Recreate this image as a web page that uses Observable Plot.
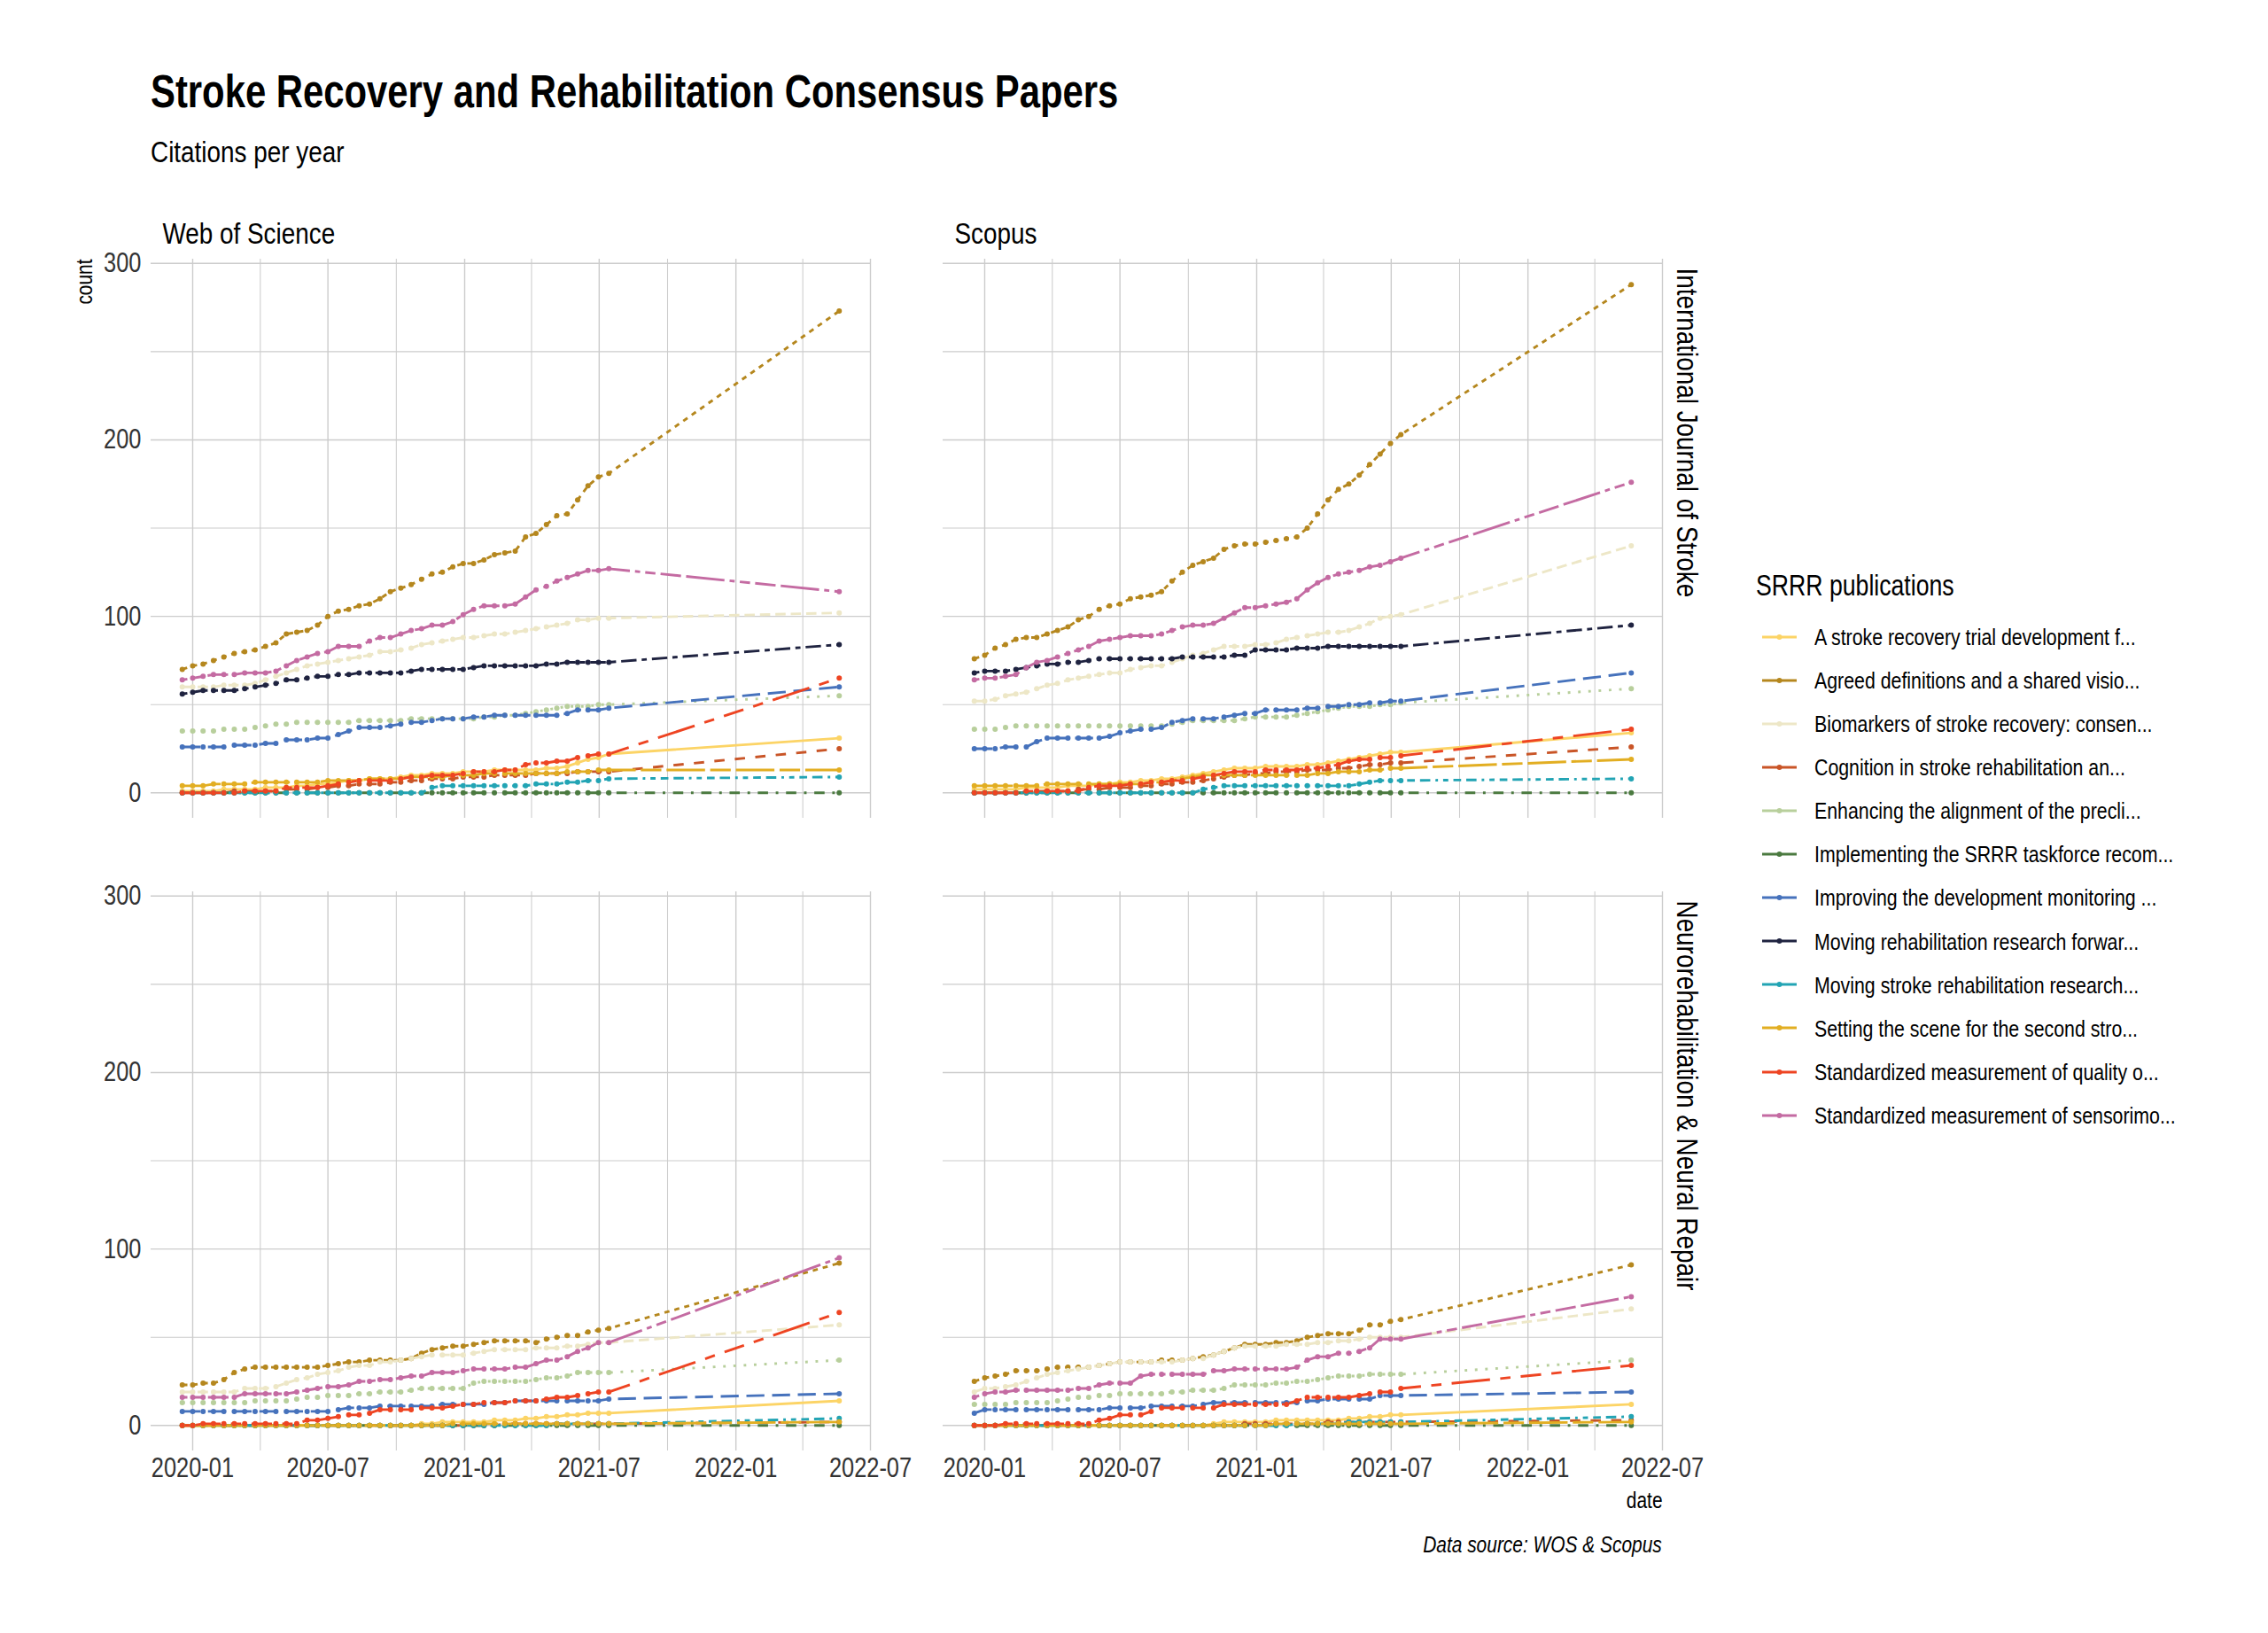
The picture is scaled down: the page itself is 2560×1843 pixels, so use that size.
<!DOCTYPE html>
<html>
<head>
<meta charset="utf-8">
<script src="https://cdn.jsdelivr.net/npm/d3@7"></script>
<script src="https://cdn.jsdelivr.net/npm/@observablehq/plot@0.6"></script>
<style>
  html, body { margin: 0; padding: 0; background: #ffffff; }
  #page { position: relative; width: 2560px; height: 1843px; background: #ffffff; overflow: hidden;
          font-family: "Liberation Sans", Arial, sans-serif; color: #000; }
  .abs { position: absolute; white-space: nowrap; line-height: 1; transform: scaleX(0.82); transform-origin: 0 50%; }
  .abs.right { transform-origin: 100% 50%; }
  .panel { position: absolute; }
  .panel svg { max-width: none !important; overflow: visible; }
</style>
</head>
<body>
<div id="page"></div>
<script>
// ---------------- DATA ----------------
const dates = [
  "2019-12-18","2020-01-01","2020-01-15","2020-01-29","2020-02-12","2020-02-26","2020-03-11","2020-03-25","2020-04-08","2020-04-22",
  "2020-05-06","2020-05-20","2020-06-03","2020-06-17","2020-07-01","2020-07-15","2020-07-29","2020-08-12","2020-08-26","2020-09-09",
  "2020-09-23","2020-10-07","2020-10-21","2020-11-04","2020-11-18","2020-12-02","2020-12-16","2020-12-30","2021-01-13","2021-01-27",
  "2021-02-10","2021-02-24","2021-03-10","2021-03-24","2021-04-07","2021-04-21","2021-05-05","2021-05-19","2021-06-02","2021-06-16",
  "2021-06-30","2021-07-14","2022-05-20"
];

const series = [
  "A stroke recovery trial development f...",
  "Agreed definitions and a shared visio...",
  "Biomarkers of stroke recovery: consen...",
  "Cognition in stroke rehabilitation an...",
  "Enhancing the alignment of the precli...",
  "Implementing the SRRR taskforce recom...",
  "Improving the development monitoring ...",
  "Moving rehabilitation research forwar...",
  "Moving stroke rehabilitation research...",
  "Setting the scene for the second stro...",
  "Standardized measurement of quality o...",
  "Standardized measurement of sensorimo..."
];

const sources = ["Web of Science", "Scopus"];
const journals = ["International Journal of Stroke", "Neurorehabilitation & Neural Repair"];

const yTicks = [0, 100, 200, 300];
const yMinor = [50, 150, 250];
const xTicks = ["2020-01-01", "2020-07-01", "2021-01-01", "2021-07-01", "2022-01-01", "2022-07-01"];
const xMinor = ["2020-04-01", "2020-10-01", "2021-04-01", "2021-10-01", "2022-04-01"];

// Web of Science / International Journal of Stroke
const wosIJS = [
  [1,1,1,1,2,2,2,2,3,3, 3,4,4,5,5,6,7,7,8,8, 8,9,10,10,11,11,11,12,12,12, 13,13,13,13,13,14,14,15,17,19, 20,22, 31],
  [70,72,73,75,77,79,80,81,83,85, 90,91,92,95,100,103,104,106,107,110, 114,116,118,121,124,125,128,130,130,132, 135,136,137,145,147,152,157,158,166,174, 179,181, 273],
  [60,60,60,60,61,61,61,62,64,66, 68,70,72,73,74,75,76,77,78,80, 80,81,82,84,85,86,87,88,88,89, 90,90,91,92,93,94,95,96,98,98, 99,99, 102],
  [0,0,0,0,0,1,1,1,1,1, 2,2,2,3,3,4,4,5,5,5, 6,6,7,7,8,8,8,9,9,9, 10,10,10,10,11,11,11,11,12,12, 12,12, 25],
  [35,35,35,35,36,36,36,37,38,39, 39,40,40,40,40,40,40,41,41,41, 41,41,42,42,42,42,42,42,42,43, 43,44,44,45,46,47,48,49,49,49, 50,50, 55],
  [0,0,0,0,0,0,0,0,0,0, 0,0,0,0,0,0,0,0,0,0, 0,0,0,0,0,0,0,0,0,0, 0,0,0,0,0,0,0,0,0,0, 0,0, 0],
  [26,26,26,26,26,27,27,27,28,28, 30,30,30,31,31,33,35,37,37,37, 38,39,40,40,41,42,42,42,43,43, 44,44,44,44,44,44,44,45,47,47, 47,48, 60],
  [56,57,58,58,58,58,59,60,61,62, 64,64,65,66,66,67,67,68,68,68, 68,68,69,70,70,70,70,70,71,72, 72,72,72,72,72,73,73,74,74,74, 74,74, 84],
  [0,0,0,0,0,0,0,0,0,0, 0,0,0,0,0,0,0,0,0,0, 0,0,0,0,3,4,4,4,4,4, 4,4,4,4,5,5,5,6,6,7, 7,8, 9],
  [4,4,4,5,5,5,5,6,6,6, 6,6,6,6,7,7,7,7,8,8, 8,8,9,9,9,9,10,10,10,11, 11,11,11,11,11,11,11,12,12,12, 13,13, 13],
  [0,0,0,0,0,0,1,1,1,1, 3,3,3,3,4,5,6,7,7,7, 7,8,9,9,10,10,10,11,12,12, 12,13,13,16,17,17,18,18,20,21, 22,22, 65],
  [64,65,66,67,67,67,68,68,68,69, 72,75,77,79,80,83,83,83,86,88, 88,90,92,93,95,95,97,101,104,106, 106,106,107,111,115,117,120,122,124,126, 126,127, 114]
];

// Scopus / International Journal of Stroke
const scopusIJS = [
  [2,2,2,2,2,3,3,3,3,4, 4,4,5,5,6,6,7,7,8,8, 9,10,11,12,13,14,14,14,15,15, 15,15,16,16,17,18,19,20,21,22, 23,23, 34],
  [76,78,82,84,87,88,88,90,92,94, 98,100,104,106,107,110,111,112,114,120, 125,129,131,133,138,140,141,141,142,143, 144,145,150,158,166,172,175,180,186,192, 198,203, 288],
  [52,52,53,55,56,57,59,61,62,64, 65,66,67,68,68,70,71,72,72,74, 76,78,79,81,83,83,83,84,84,85, 87,88,89,90,91,91,92,94,96,99, 100,101, 140],
  [0,0,0,0,0,0,1,1,1,1, 2,2,2,3,3,3,4,4,5,5, 6,6,7,8,9,10,10,11,11,12, 12,12,13,13,13,14,14,15,16,16, 17,17, 26],
  [36,36,36,37,38,38,38,38,38,38, 38,38,38,38,38,38,38,38,38,39, 40,41,41,41,41,41,42,43,43,43, 43,44,45,46,47,48,49,49,49,50, 50,51, 59],
  [0,0,0,0,0,0,0,0,0,0, 0,0,0,0,0,0,0,0,0,0, 0,0,0,0,0,0,0,0,0,0, 0,0,0,0,0,0,0,0,0,0, 0,0, 0],
  [25,25,25,26,26,26,29,31,31,31, 31,31,31,32,34,35,36,36,37,40, 41,42,42,42,43,44,45,45,47,47, 47,47,48,48,49,49,50,50,51,51, 52,52, 68],
  [68,69,69,69,70,71,72,73,73,74, 74,75,76,76,76,76,76,76,76,76, 77,77,77,77,77,78,78,81,81,81, 81,82,82,82,83,83,83,83,83,83, 83,83, 95],
  [0,0,0,0,0,0,0,0,0,0, 0,0,0,0,0,0,0,0,0,0, 0,0,2,3,4,4,4,4,4,4, 4,4,4,4,4,4,4,5,6,7, 7,7, 8],
  [4,4,4,4,4,4,4,5,5,5, 5,5,5,5,5,5,5,6,6,7, 8,9,10,10,10,10,10,10,10,10, 10,10,10,11,11,12,12,12,13,13, 14,14, 19],
  [0,0,0,0,0,1,1,1,1,1, 1,3,4,4,4,5,5,6,6,7, 7,8,9,10,11,12,12,12,13,13, 13,13,14,14,15,16,18,19,19,20, 20,21, 36],
  [64,65,65,66,67,71,74,75,77,79, 81,83,86,87,88,89,89,89,90,92, 94,95,95,96,99,102,105,105,106,107, 108,110,115,119,122,124,125,126,128,129, 131,133, 176]
];

// Web of Science / Neurorehabilitation & Neural Repair (no data for series 8)
const wosNNR = [
  [0,0,0,0,0,0,0,0,0,0, 0,0,0,0,0,0,0,0,0,0, 0,0,0,1,1,2,2,2,2,2, 3,3,3,4,4,5,5,6,6,7, 7,7, 14],
  [23,23,24,24,26,30,32,33,33,33, 33,33,33,33,34,35,36,36,37,37, 37,37,38,41,43,44,45,45,46,47, 48,48,48,48,47,49,50,51,51,53, 54,55, 92],
  [19,19,19,19,19,19,21,21,21,22, 24,26,27,29,30,31,33,34,34,36, 36,37,38,39,40,40,40,40,41,42, 43,43,43,43,44,44,44,45,45,46, 47,47, 57],
  [0,0,0,0,0,0,0,0,0,0, 0,0,0,0,0,0,0,0,0,0, 0,0,0,0,0,0,0,0,0,0, 0,1,1,1,1,1,1,1,1,1, 1,1, 2],
  [13,13,13,13,13,13,13,14,14,14, 14,15,16,16,17,17,17,18,18,19, 19,19,20,21,21,21,21,21,24,25, 25,25,25,25,26,27,27,28,30,30, 30,30, 37],
  [0,0,0,0,0,0,0,0,0,0, 0,0,0,0,0,0,0,0,0,0, 0,0,0,0,0,0,0,0,0,0, 0,0,0,0,0,0,0,0,0,0, 0,0, 0],
  [8,8,8,8,8,8,8,8,8,8, 8,8,8,8,8,9,10,10,10,11, 11,11,11,11,11,12,12,12,12,12, 13,13,14,14,14,14,14,14,14,14, 14,15, 18],
  null,
  [0,0,0,0,0,0,0,0,0,0, 0,0,0,0,0,0,0,0,0,0, 0,0,0,0,0,0,0,0,0,0, 0,0,0,0,0,0,1,1,1,1, 1,1, 4],
  [0,0,0,0,0,0,0,0,0,0, 0,0,0,0,0,0,0,0,0,0, 0,0,0,0,0,0,1,1,1,1, 1,1,1,1,1,1,1,1,1,1, 1,1, 2],
  [0,0,1,1,1,1,1,1,1,1, 1,1,3,3,4,5,6,6,7,9, 9,9,9,10,10,10,11,12,12,13, 13,13,14,14,14,15,16,16,17,18, 19,19, 64],
  [16,16,16,16,16,16,18,18,18,18, 18,19,20,21,22,22,23,25,25,26, 26,27,28,28,30,30,30,31,32,32, 32,32,33,33,35,37,37,39,42,44, 47,47, 95]
];

// Scopus / Neurorehabilitation & Neural Repair (no data for series 8)
const scopusNNR = [
  [0,0,0,0,0,0,0,0,0,0, 0,0,0,0,0,0,0,0,0,0, 0,0,0,1,2,2,2,2,2,3, 3,3,3,3,3,3,4,4,5,5, 6,6, 12],
  [25,27,28,29,31,31,31,32,33,33, 33,33,34,35,36,36,36,36,37,37, 37,38,39,40,42,44,46,46,46,47, 47,48,50,51,52,52,52,54,57,57, 59,60, 91],
  [19,21,21,22,23,25,27,29,30,31, 32,33,34,35,36,36,36,36,36,36, 37,38,38,40,42,44,45,45,45,45, 46,46,46,47,47,48,48,49,50,50, 50,50, 66],
  [0,0,0,0,0,0,0,0,0,0, 0,0,0,0,0,0,0,0,0,0, 0,0,0,0,0,0,1,1,1,1, 1,1,1,1,2,2,2,2,2,2, 2,2, 3],
  [12,12,12,12,13,13,13,13,14,15, 16,16,17,17,18,18,18,18,18,19, 19,20,20,20,21,23,23,23,23,24, 24,25,25,26,27,28,28,28,29,29, 29,29, 37],
  [0,0,0,0,0,0,0,0,0,0, 0,0,0,0,0,0,0,0,0,0, 0,0,0,0,0,0,0,0,0,0, 0,0,0,0,0,0,0,0,0,0, 0,0, 0],
  [7,9,9,9,9,9,9,9,9,9, 9,9,9,10,10,10,10,11,11,11, 11,11,12,13,13,13,13,13,13,13, 13,13,14,14,15,15,15,15,15,17, 17,17, 19],
  null,
  [0,0,0,0,0,0,0,0,0,0, 0,0,0,0,0,0,0,0,0,0, 0,0,0,0,0,0,0,0,0,0, 0,1,1,1,1,1,2,2,2,2, 2,2, 5],
  [0,0,0,0,0,0,0,0,0,0, 0,0,0,0,0,0,0,0,0,0, 0,0,0,0,0,0,0,0,0,1, 1,1,1,1,1,1,1,1,1,1, 1,1, 2],
  [0,0,0,1,1,1,1,1,1,1, 1,1,3,4,6,6,6,8,10,10, 10,10,10,10,12,12,12,12,12,12, 12,14,16,16,16,16,16,17,18,19, 19,21, 34],
  [16,18,19,19,20,20,20,20,20,20, 21,21,23,24,24,24,28,29,29,29, 29,29,29,31,31,32,32,32,32,32, 32,33,37,39,39,41,41,42,44,49, 49,49, 73]
];

// ---------------- STYLE ----------------
const colors = ["#FCD466", "#B5871E", "#EDE7C7", "#C95527", "#B8CF9C", "#4B7A40",
                "#4672BC", "#1F2340", "#22A4B4", "#E2AE22", "#EE4422", "#C46BA2"];
const linetypes = ["solid", "22", "42", "44", "13", "1343", "73", "2262", "12223242", "F282", "F4448444", "224282F2"];

const FONT = '"Liberation Sans", Arial, sans-serif';
const NARROW = 0.82;       // horizontal compression to mimic a narrow face
const LW = 2.9;            // line width (px)
const U = 2.9;             // dash unit
const DOT_R = 3.0;
const GRID = "#cccccc";
const PANEL_W = 812, PANEL_H = 631;
const M = {top: 60, right: 90, bottom: 110, left: 90};
const panelX = [170, 1064];
const panelY = [292, 1006];
const TICK_FS = 31, STRIP_FS = 34, SMALL_FS = 25.5;

function dash(lt) {
  if (lt === "solid") return undefined;
  return lt.split("").map(h => parseInt(h, 16) * U).join(",");
}

function rowsFor(values) {
  const out = [];
  values.forEach((vals, s) => {
    if (!vals) return;
    vals.forEach((v, i) => out.push({date: new Date(dates[i]), value: v, series: series[s], idx: s}));
  });
  return out;
}

function narrowText(svg) {
  svg.querySelectorAll("text").forEach(t => {
    const tr = t.getAttribute("transform");
    if (tr) {
      t.setAttribute("transform", tr + ` scale(${NARROW},1)`);
    } else {
      const x = parseFloat(t.getAttribute("x")) || 0;
      t.setAttribute("transform", `translate(${x},0) scale(${NARROW},1) translate(${-x},0)`);
    }
  });
  return svg;
}

function makePanel(values, col, row) {
  const rows = rowsFor(values);
  const marks = [
    Plot.gridX({ticks: xMinor.map(d => new Date(d)), stroke: GRID, strokeOpacity: 1, strokeWidth: 1.05}),
    Plot.gridX({ticks: xTicks.map(d => new Date(d)), stroke: GRID, strokeOpacity: 1, strokeWidth: 1.4}),
    Plot.gridY({ticks: yMinor, stroke: GRID, strokeOpacity: 1, strokeWidth: 1.05}),
    Plot.gridY({ticks: yTicks, stroke: GRID, strokeOpacity: 1, strokeWidth: 1.4})
  ];
  series.forEach((name, s) => {
    const d = rows.filter(r => r.idx === s);
    if (!d.length) return;
    marks.push(Plot.line(d, {
      x: "date", y: "value", stroke: "series", strokeWidth: LW,
      strokeDasharray: dash(linetypes[s]), strokeLinecap: "butt", strokeLinejoin: "round"
    }));
  });
  marks.push(Plot.dot(rows, {x: "date", y: "value", fill: "series", r: DOT_R, stroke: null}));

  if (col === 0) {
    marks.push(Plot.axisY({ticks: yTicks, tickSize: 0, tickPadding: 11, fontSize: TICK_FS, label: null, fill: "#333"}));
  }
  if (row === 1) {
    marks.push(Plot.axisX({ticks: xTicks.map(d => new Date(d)), tickFormat: d3.utcFormat("%Y-%m"),
      tickSize: 0, tickPadding: 7, fontSize: TICK_FS, label: null, fill: "#333"}));
  }
  if (row === 0) {
    marks.push(Plot.text([sources[col]], {frameAnchor: "top-left", text: d => d, dx: 13, dy: -18,
      textAnchor: "start", lineAnchor: "bottom", fontSize: STRIP_FS, fill: "#000"}));
  }
  if (col === 1) {
    marks.push(Plot.text([journals[row]], {frameAnchor: "top-right", text: d => d, dx: 27, dy: 10,
      rotate: 90, textAnchor: "start", lineAnchor: "middle", fontSize: STRIP_FS, fill: "#000"}));
  }
  if (col === 0 && row === 0) {
    marks.push(Plot.text(["count"], {frameAnchor: "top-left", text: d => d, dx: -75, dy: 0,
      rotate: -90, textAnchor: "end", lineAnchor: "middle", fontSize: SMALL_FS, fill: "#000"}));
  }
  if (col === 1 && row === 1) {
    marks.push(Plot.text(["date"], {frameAnchor: "bottom-right", text: d => d, dx: 0, dy: 56,
      textAnchor: "end", lineAnchor: "middle", fontSize: SMALL_FS, fill: "#000"}));
  }

  const xOpt = {type: "utc", domain: [new Date("2019-11-06"), new Date("2022-07-01")]};
  const yOpt = {domain: [-14.4, 302.4]};
  if (row !== 1) xOpt.axis = null;
  if (col !== 0) yOpt.axis = null;

  return narrowText(Plot.plot({
    width: PANEL_W + M.left + M.right,
    height: PANEL_H + M.top + M.bottom,
    marginTop: M.top, marginRight: M.right, marginBottom: M.bottom, marginLeft: M.left,
    x: xOpt, y: yOpt,
    color: {domain: series, range: colors},
    style: {background: "transparent", fontFamily: FONT, color: "#333", overflow: "visible"},
    marks
  }));
}

// ---------------- LAYOUT ----------------
const page = document.getElementById("page");

function addText(txt, css, cls) {
  const el = document.createElement("div");
  el.className = "abs" + (cls ? " " + cls : "");
  el.textContent = txt;
  Object.assign(el.style, css);
  page.appendChild(el);
  return el;
}

addText("Stroke Recovery and Rehabilitation Consensus Papers",
  {left: "170px", top: "78px", fontSize: "51px", fontWeight: "bold"});
addText("Citations per year", {left: "170px", top: "154px", fontSize: "34px"});

const panelData = [[wosIJS, scopusIJS], [wosNNR, scopusNNR]];
for (let row = 0; row < 2; row++) {
  for (let col = 0; col < 2; col++) {
    const div = document.createElement("div");
    div.className = "panel";
    div.style.left = (panelX[col] - M.left) + "px";
    div.style.top = (panelY[row] - M.top) + "px";
    div.style.width = (PANEL_W + M.left + M.right) + "px";
    div.appendChild(makePanel(panelData[row][col], col, row));
    page.appendChild(div);
  }
}

// caption
addText("Data source: WOS & Scopus",
  {right: (2560 - 1876) + "px", top: "1731px", fontSize: "25.5px", fontStyle: "italic", textAlign: "right"}, "right");

// legend
addText("SRRR publications", {left: "1982px", top: "645px", fontSize: "32.5px"});
series.forEach((name, s) => {
  const cy = 718.5 + 49.1 * s;
  const key = document.createElementNS("http://www.w3.org/2000/svg", "svg");
  key.setAttribute("width", 44); key.setAttribute("height", 12);
  key.style.position = "absolute";
  key.style.left = "1987px";
  key.style.top = (cy - 6) + "px";
  key.innerHTML = `<line x1="2" x2="41" y1="6" y2="6" stroke="${colors[s]}" stroke-width="${LW}"/>` +
                  `<circle cx="21.5" cy="6" r="${DOT_R}" fill="${colors[s]}"/>`;
  page.appendChild(key);
  addText(name, {left: "2048px", top: (cy - 12.7) + "px", fontSize: "26px"});
});
</script>
</body>
</html>
